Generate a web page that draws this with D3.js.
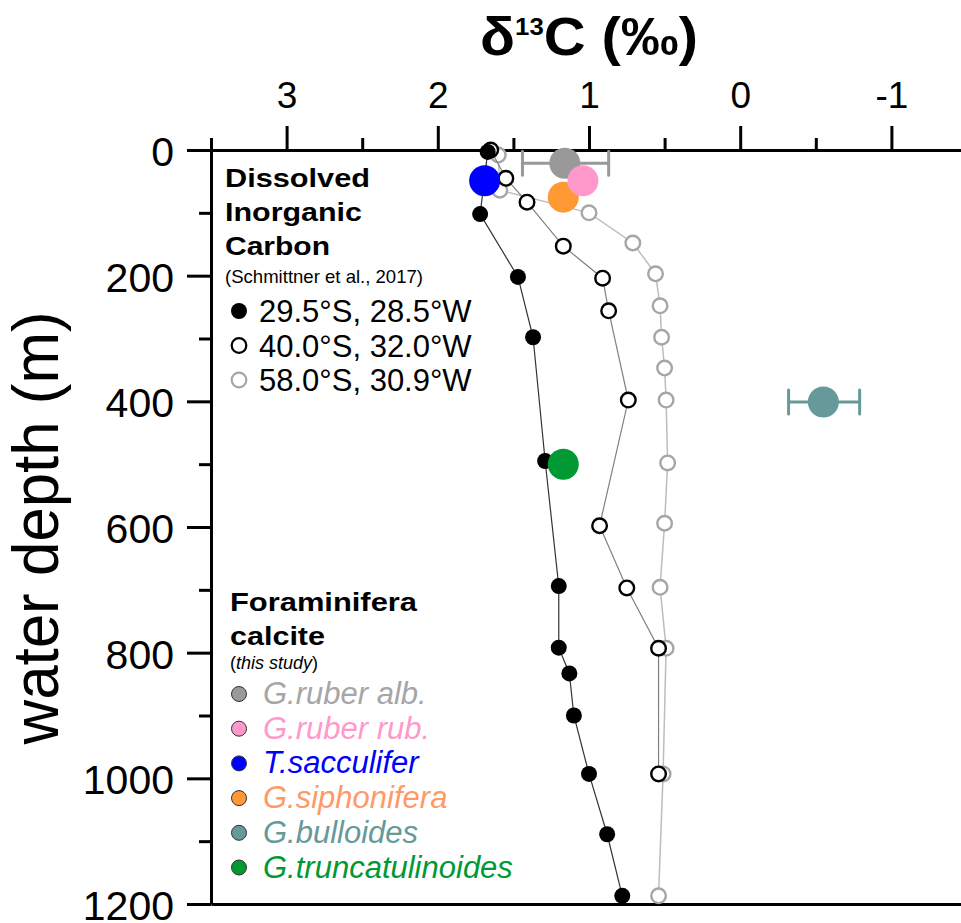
<!DOCTYPE html>
<html>
<head>
<title>d13C depth profile</title>
<script src="https://cdn.jsdelivr.net/npm/d3@7"></script>
<style type="text/css">
  body { margin: 0; background: #fff; }
  svg { display: block; font-family: "Liberation Sans", Arial, sans-serif; }
</style>
</head>
<body>
<script type="text/javascript">

// Width and height
var w = 961;
var h = 923;

// DIC profiles (Schmittner et al., 2017)
var depthA = [3, 102, 202, 298, 495, 694, 792, 833, 900, 993, 1089, 1187];
var d13cA  = [1.67, 1.72, 1.47, 1.37, 1.29, 1.20, 1.20, 1.13, 1.10, 1.00, 0.88, 0.78];

var depthB = [0, 45, 83, 153, 204, 256, 398, 598, 697, 793, 993];
var d13cB  = [1.65, 1.55, 1.41, 1.17, 0.91, 0.87, 0.74, 0.93, 0.75, 0.54, 0.54];

var depthC = [8, 64, 100, 148, 197, 248, 298, 347, 398, 498, 594, 696, 793, 993, 1187];
var d13cC  = [1.60, 1.59, 1.00, 0.71, 0.56, 0.53, 0.52, 0.50, 0.49, 0.48, 0.50, 0.53, 0.49, 0.51, 0.54];

var stations = ["29.5°S, 28.5°W", "40.0°S, 32.0°W", "58.0°S, 30.9°W"];

// foraminifera calcite (this study)
var species    = ["G.ruber alb.", "G.ruber rub.", "T.sacculifer", "G.siphonifera", "G.bulloides", "G.truncatulinoides"];
var foramDepth = [21, 49, 49, 75, 401, 500];
var foramD13c  = [1.16, 1.04, 1.69, 1.17, -0.55, 1.17];
var errLow     = [0.87, null, null, null, -0.79, null];
var errHigh    = [1.44, null, null, null, -0.32, null];
var foramFill  = ["#999999", "#ff99cc", "#0000ff", "#ff9933", "#669999", "#009933"];
var foramText  = ["#a6a6a6", "#ff99cc", "#0000ff", "#ff9966", "#669999", "#009933"];
var drawOrder  = [0, 3, 1, 2, 4, 5];

// ticks
var xTicks = [3, 2, 1, 0, -1];
var xMinor = [3.5, 2.5, 1.5, 0.5, -0.5];
var yTicks = [0, 200, 400, 600, 800, 1000, 1200];
var yMinor = [100, 300, 500, 700, 900, 1100];

var x = d3.scaleLinear().domain([3.5, -1.5]).range([211, 967]);
var y = d3.scaleLinear().domain([0, 1200]).range([150, 904]);

var svg = d3.select("body")
  .append("svg")
  .attr("width", w)
  .attr("height", h);

// ---- axes
function styleAxis(g, fs) {
  g.select(".domain").attr("stroke", "#000").attr("stroke-width", 3);
  g.selectAll(".tick line").attr("stroke", "#000").attr("stroke-width", 3);
  g.selectAll(".tick text").attr("fill", "#000")
    .style("font-size", fs + "px")
    .style("font-family", "'Liberation Sans', Arial, sans-serif");
}

svg.append("g")
  .attr("transform", "translate(0,150)")
  .call(d3.axisTop(x).tickValues(xMinor).tickSize(12).tickSizeOuter(0).tickFormat(""))
  .call(styleAxis, 37);

svg.append("g")
  .attr("transform", "translate(0,150)")
  .call(d3.axisTop(x).tickValues(xTicks).tickSize(24).tickSizeOuter(0).tickPadding(18)
    .tickFormat(function(d) { return String(d); }))
  .call(styleAxis, 37);

svg.append("g")
  .attr("transform", "translate(211,0)")
  .call(d3.axisLeft(y).tickValues(yMinor).tickSize(12).tickSizeOuter(0).tickFormat(""))
  .call(styleAxis, 41);

var yAx = svg.append("g")
  .attr("transform", "translate(211,0)")
  .call(d3.axisLeft(y).tickValues(yTicks).tickSize(24).tickSizeOuter(0).tickPadding(13)
    .tickFormat(function(d) { return String(d); }))
  .call(styleAxis, 41);
yAx.selectAll(".tick text").attr("dy", "0.38em");

svg.append("g")
  .attr("transform", "translate(0,904)")
  .call(d3.axisBottom(x).tickValues([]).tickSizeOuter(0))
  .call(styleAxis, 37);

// ---- titles
var title = svg.append("text")
  .attr("x", 480)
  .attr("y", 55)
  .attr("textLength", 218)
  .attr("lengthAdjust", "spacingAndGlyphs")
  .style("font-weight", "bold")
  .style("font-size", "54px");
title.append("tspan").text("δ");
title.append("tspan").attr("dy", -20).style("font-size", "24px").text("13");
title.append("tspan").attr("dy", 20).text("C (‰)");

svg.append("text")
  .attr("transform", "translate(58,528) rotate(-90)")
  .attr("text-anchor", "middle")
  .attr("textLength", 433)
  .attr("lengthAdjust", "spacingAndGlyphs")
  .style("font-size", "64px")
  .text("water depth (m)");

// ---- DIC profiles
var line = d3.line()
  .x(function(d) { return x(d[1]); })
  .y(function(d) { return y(d[0]); });

var profiles = [
  { depth: depthC, val: d13cC, line: "#bdbdbd", lw: 1.5, fill: "#fff", stroke: "#a6a6a6" },
  { depth: depthB, val: d13cB, line: "#808080", lw: 1.2, fill: "#fff", stroke: "#000" },
  { depth: depthA, val: d13cA, line: "#333", lw: 1.2, fill: "#000", stroke: "#000" }
];

profiles.forEach(function(p) {
  var pts = p.depth.map(function(d, i) { return [d, p.val[i]]; });
  svg.append("path")
    .datum(pts)
    .attr("fill", "none")
    .attr("stroke", p.line)
    .attr("stroke-width", p.lw)
    .attr("d", line);
  svg.selectAll(null)
    .data(pts)
    .enter()
    .append("circle")
    .attr("cx", function(d) { return x(d[1]); })
    .attr("cy", function(d) { return y(d[0]); })
    .attr("r", p.fill == "#000" ? 8 : 7.3)
    .attr("fill", p.fill)
    .attr("stroke", p.stroke)
    .attr("stroke-width", p.fill == "#000" ? 0 : 2.4);
});

// ---- foraminifera
drawOrder.forEach(function(i) {
  var cy = y(foramDepth[i]);
  if (errLow[i] != null) {
    var g = svg.append("g")
      .attr("stroke", foramFill[i])
      .attr("stroke-width", 3)
      .attr("stroke-linecap", "round");
    g.append("line")
      .attr("x1", x(errLow[i])).attr("x2", x(errHigh[i]))
      .attr("y1", cy).attr("y2", cy);
    [errLow[i], errHigh[i]].forEach(function(v) {
      g.append("line")
        .attr("x1", x(v)).attr("x2", x(v))
        .attr("y1", cy - 12).attr("y2", cy + 12);
    });
  }
  svg.append("circle")
    .attr("cx", x(foramD13c[i]))
    .attr("cy", cy)
    .attr("r", 15.5)
    .attr("fill", foramFill[i]);
});

// ---- legend: DIC
function stretched(txt, xx, yy, size, len, weight) {
  return svg.append("text")
    .attr("x", xx)
    .attr("y", yy)
    .attr("textLength", len)
    .attr("lengthAdjust", "spacingAndGlyphs")
    .style("font-size", size + "px")
    .style("font-weight", weight)
    .text(txt);
}

stretched("Dissolved", 225, 187, 26, 145, "bold");
stretched("Inorganic", 225, 221, 26, 137, "bold");
stretched("Carbon", 225, 255, 26, 105, "bold");
stretched("(Schmittner et al., 2017)", 225, 283, 18.5, 198, "normal");

var legFill = ["#000", "#fff", "#fff"];
var legStroke = ["#000", "#000", "#a6a6a6"];
stations.forEach(function(s, i) {
  var cy = 311 + 34.5 * i;
  svg.append("circle")
    .attr("cx", 239).attr("cy", cy)
    .attr("r", i == 0 ? 8 : 7.3)
    .attr("fill", legFill[i])
    .attr("stroke", legStroke[i])
    .attr("stroke-width", i == 0 ? 0 : 2.2);
  svg.append("text")
    .attr("x", 259)
    .attr("y", cy + 11)
    .style("font-size", "31px")
    .text(s);
});

// ---- legend: foraminifera
stretched("Foraminifera", 230, 611, 26, 187, "bold");
stretched("calcite", 230, 645, 26, 95, "bold");

var study = svg.append("text")
  .attr("x", 230)
  .attr("y", 669)
  .style("font-size", "18px");
study.append("tspan").text("(");
study.append("tspan").style("font-style", "italic").text("this study");
study.append("tspan").text(")");

species.forEach(function(s, i) {
  var cy = 694 + 34.7 * i;
  svg.append("circle")
    .attr("cx", 239).attr("cy", cy)
    .attr("r", 7.5)
    .attr("fill", foramFill[i])
    .attr("stroke", "#333")
    .attr("stroke-width", 1);
  svg.append("text")
    .attr("x", 263)
    .attr("y", cy + 10)
    .attr("fill", foramText[i])
    .style("font-size", "31px")
    .style("font-style", "italic")
    .text(s);
});

</script>
</body>
</html>
